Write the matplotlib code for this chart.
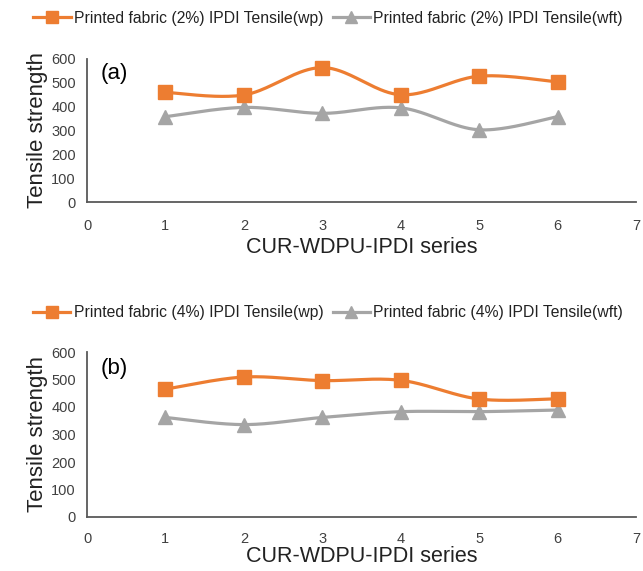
import numpy as np
import matplotlib
matplotlib.use("Agg")
import matplotlib.pyplot as plt
from matplotlib.lines import Line2D

plt.rcParams['font.family'] = ['Liberation Sans', 'DejaVu Sans']

# series index on the x axis
series = [1, 2, 3, 4, 5, 6]

# tensile strength, 2% IPDI printed fabric
wp_2 = [460, 449, 564, 450, 528, 504]
wft_2 = [358, 397, 372, 395, 303, 358]

# tensile strength, 4% IPDI printed fabric
wp_4 = [465, 509, 496, 497, 429, 430]
wft_4 = [362, 336, 362, 383, 383, 389]

orange = '#ED7D31'
grey = '#A5A5A5'
axis_col = '#595959'


def smooth(xs, ys, n=40):
    # Bezier smoothing through every point, control points from neighbours
    x = np.asarray(xs, float)
    y = np.asarray(ys, float)
    px, py = [], []
    for i in range(len(x) - 1):
        i0 = max(i - 1, 0)
        i3 = min(i + 2, len(x) - 1)
        c1x = x[i] + (x[i + 1] - x[i0]) / 6
        c1y = y[i] + (y[i + 1] - y[i0]) / 6
        c2x = x[i + 1] - (x[i3] - x[i]) / 6
        c2y = y[i + 1] - (y[i3] - y[i]) / 6
        t = np.linspace(0, 1, n)
        bx = (1-t)**3*x[i] + 3*(1-t)**2*t*c1x + 3*(1-t)*t**2*c2x + t**3*x[i+1]
        by = (1-t)**3*y[i] + 3*(1-t)**2*t*c1y + 3*(1-t)*t**2*c2y + t**3*y[i+1]
        px.extend(bx)
        py.extend(by)
    return px, py


fig = plt.figure(figsize=(6.43, 5.71), dpi=100)
W, H = 643, 571

panels = [
    (wp_2, wft_2, '2%', '(a)', 59, 202, 18, 12, 3),
    (wp_4, wft_4, '4%', '(b)', 352, 517, 313, 11, 0),
]

for wp, wft, pct, tag, top, bottom, leg_y, xpad, lpad in panels:
    ax = fig.add_axes([87 / W, 1 - bottom / H, (636 - 87) / W, (bottom - top) / H])

    sx, sy = smooth(series, wp)
    ax.plot(sx, sy, color=orange, lw=2.3, zorder=3)
    ax.plot(series, wp, 's', color=orange, ms=10, zorder=4)
    sx, sy = smooth(series, wft)
    ax.plot(sx, sy, color=grey, lw=2.3, zorder=2)
    ax.plot(series, wft, '^', color=grey, ms=10, zorder=3)

    ax.set_xlim(0, 7)
    ax.set_ylim(0, 600)
    ax.set_xticks(range(0, 8))
    ax.set_yticks(range(0, 601, 100))
    ax.tick_params(length=0, labelsize=10.5, colors='#404040')
    ax.tick_params(axis='y', pad=8)
    ax.tick_params(axis='x', pad=xpad)
    for s in ['top', 'right']:
        ax.spines[s].set_visible(False)
    for s in ['left', 'bottom']:
        ax.spines[s].set_color(axis_col)
        ax.spines[s].set_linewidth(1.3)

    ax.set_ylabel('Tensile strength', fontsize=16, color='#222222', labelpad=2)
    ax.set_xlabel('CUR-WDPU-IPDI series', fontsize=15.5, color='#222222', labelpad=lpad)
    ax.text(0.025, 0.9, tag, transform=ax.transAxes, fontsize=16, va='center')

    handles = [
        Line2D([], [], color=orange, lw=2.3, marker='s', ms=8),
        Line2D([], [], color=grey, lw=2.3, marker='^', ms=8),
    ]
    labels = [f'Printed fabric ({pct}) IPDI Tensile(wp)',
              f'Printed fabric ({pct}) IPDI Tensile(wft)']
    fig.legend(handles, labels, loc='center', bbox_to_anchor=(0.51, 1 - leg_y / H),
               ncol=2, frameon=False, fontsize=11.3, handlelength=2.4,
               handletextpad=0.2, columnspacing=0.6, labelcolor='#222222')

fig.savefig('out.png', dpi=100)
